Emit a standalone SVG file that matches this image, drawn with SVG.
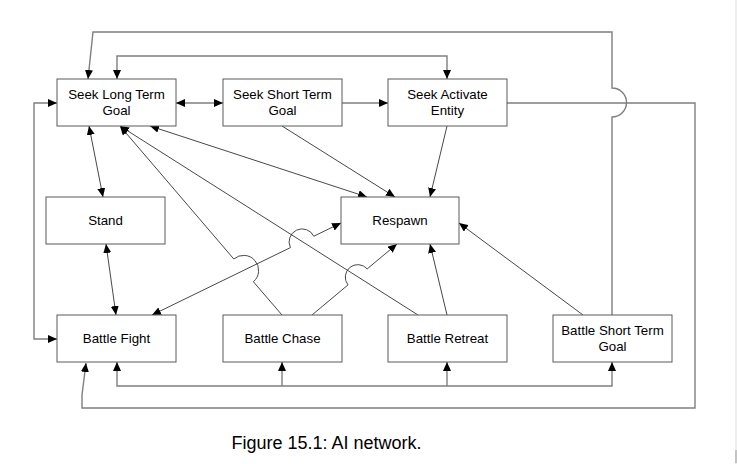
<svg xmlns="http://www.w3.org/2000/svg" width="737" height="464" viewBox="0 0 737 464">
<defs>
<marker id="ah" viewBox="0 0 9 8" refX="9" refY="4" markerWidth="9" markerHeight="8" markerUnits="userSpaceOnUse" orient="auto-start-reverse">
<path d="M0,0 L9,4 L0,8 z" fill="#000"/>
</marker>
<style>
.box rect{fill:#fff;stroke:#5a5a5a;stroke-width:1}
.box text{font-family:"Liberation Sans",Arial,sans-serif;font-size:13.3px;fill:#000;text-anchor:middle}
.ortho{fill:none;stroke:#7f7f7f;stroke-width:1.4}
.diag{fill:none;stroke:#333;stroke-width:0.9}
.e{marker-end:url(#ah)}
.b{marker-start:url(#ah);marker-end:url(#ah)}
.cap{font-family:"Liberation Sans",Arial,sans-serif;font-size:18px;fill:#000;text-anchor:middle}
</style>
</defs>
<rect width="737" height="464" fill="#fff"/>
<rect x="735" y="0" width="2" height="464" fill="#eeeeee"/>
<rect x="735" y="450" width="2" height="13" fill="#c4c4c4"/>
<g id="connectors">
<path class="ortho e" d="M612,315 V117 A14.5,14.5 0 0 0 612,88 V32 H93 L88,79"/>
<path class="ortho b" d="M117,79 V56 H447 V79"/>
<path class="ortho b" d="M176,103 H223"/>
<path class="ortho e" d="M342,103 H388"/>
<path class="ortho b" d="M57,103 H34 V339 H57"/>
<path class="ortho e" d="M507,103 H695 V408 H82 V395 L86,363"/>
<path class="ortho b" d="M117,362 V386 H612 V362"/>
<path class="ortho e" d="M282,386 V362"/>
<path class="ortho e" d="M447,386 V362"/>
<path class="diag b" d="M89,126 L103,197"/>
<path class="diag b" d="M106,244 L116,315"/>
<path class="diag b" d="M150,126 L367,197"/>
<path class="diag e" d="M282,315 L253.4,281.8 A15,15 0 0 0 233.8,259 L120,126"/>
<path class="diag b" d="M152,315 L290.4,247.6 A13,13 0 0 1 313.8,236.2 L341,223"/>
<path class="diag e" d="M418,315 L120,126"/>
<path class="diag e" d="M312,315 L348,284.9 A12.5,12.5 0 0 1 367.2,268.9 L397,244"/>
<path class="diag e" d="M282,126 L395,197"/>
<path class="diag e" d="M447,126 L430,197"/>
<path class="diag e" d="M447,315 L430,244"/>
<path class="diag e" d="M583,315 L459,223"/>
</g>
<g id="seek-long-term-goal" class="box"><rect x="57" y="79" width="119" height="47"/><text x="116.5" y="99">Seek Long Term</text><text x="116.5" y="115">Goal</text></g>
<g id="seek-short-term-goal" class="box"><rect x="223" y="79" width="119" height="47"/><text x="282.5" y="99">Seek Short Term</text><text x="282.5" y="115">Goal</text></g>
<g id="seek-activate-entity" class="box"><rect x="388" y="79" width="119" height="47"/><text x="447.5" y="99">Seek Activate</text><text x="447.5" y="115">Entity</text></g>
<g id="stand" class="box"><rect x="46" y="197" width="119" height="47"/><text x="105.5" y="225">Stand</text></g>
<g id="respawn" class="box"><rect x="341" y="197" width="118" height="47"/><text x="400" y="225">Respawn</text></g>
<g id="battle-fight" class="box"><rect x="57" y="315" width="119" height="47"/><text x="116.5" y="343">Battle Fight</text></g>
<g id="battle-chase" class="box"><rect x="223" y="315" width="119" height="47"/><text x="282.5" y="343">Battle Chase</text></g>
<g id="battle-retreat" class="box"><rect x="388" y="315" width="119" height="47"/><text x="447.5" y="343">Battle Retreat</text></g>
<g id="battle-short-term-goal" class="box"><rect x="553" y="315" width="119" height="47"/><text x="612.5" y="335">Battle Short Term</text><text x="612.5" y="351">Goal</text></g>
<text class="cap" x="326.5" y="449">Figure 15.1: AI network.</text>
</svg>
